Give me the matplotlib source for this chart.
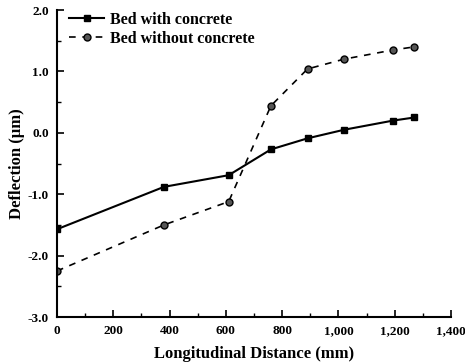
import matplotlib
matplotlib.use("Agg")
import matplotlib.pyplot as plt
from matplotlib.ticker import FuncFormatter, MultipleLocator

x_with = [0, 380, 610, 760, 890, 1020, 1195, 1270]
y_with = [-1.57, -0.88, -0.69, -0.27, -0.09, 0.05, 0.20, 0.25]
x_without = [0, 380, 610, 760, 890, 1020, 1195, 1270]
y_without = [-2.25, -1.50, -1.12, 0.44, 1.04, 1.20, 1.35, 1.40]

plt.rcParams['font.family'] = ['Liberation Serif', 'DejaVu Serif']
plt.rcParams['font.weight'] = 'bold'

fig = plt.figure(figsize=(4.65, 3.64), dpi=100)
ax = fig.add_axes([0.1226, 0.129, 0.8474, 0.8435])

ax.plot(x_with, y_with, '-', color='black', lw=1.5, marker='s', ms=5,
        mfc='black', mec='black', label='Bed with concrete')
ax.plot(x_without, y_without, '--', color='black', lw=1.2, dashes=(4, 4),
        marker='o', ms=5, mfc='#555555', mec='black', label='Bed without concrete')

ax.set_xlim(0, 1400)
ax.set_ylim(-3.0, 2.0)
ax.xaxis.set_major_locator(MultipleLocator(200))
ax.xaxis.set_minor_locator(MultipleLocator(100))
ax.yaxis.set_major_locator(MultipleLocator(1.0))
ax.yaxis.set_minor_locator(MultipleLocator(0.5))
ax.xaxis.set_major_formatter(FuncFormatter(lambda v, p: f"{int(v):,}"))
ax.yaxis.set_major_formatter(FuncFormatter(lambda v, p: f"{v:.1f}"))

for s in ['top', 'right']:
    ax.spines[s].set_visible(False)
for s in ['left', 'bottom']:
    ax.spines[s].set_linewidth(1.5)

ax.tick_params(which='major', direction='in', length=5, width=1.2, labelsize=9.5, pad=6)
ax.tick_params(which='minor', direction='in', length=3, width=1.0)

ax.set_xlabel('Longitudinal Distance (mm)', fontsize=12, fontweight='bold', labelpad=6)
ax.set_ylabel('Deflection (\u03bcm)', fontsize=12, fontweight='bold', labelpad=2)

leg = ax.legend(loc='upper left', frameon=False, fontsize=11.5, handlelength=2.2,
                borderaxespad=0.1, labelspacing=0.2, handletextpad=0.4,
                bbox_to_anchor=(0.01, 1.02))
for t in leg.get_texts():
    t.set_fontweight('bold')

fig.savefig('out.png', dpi=100)
